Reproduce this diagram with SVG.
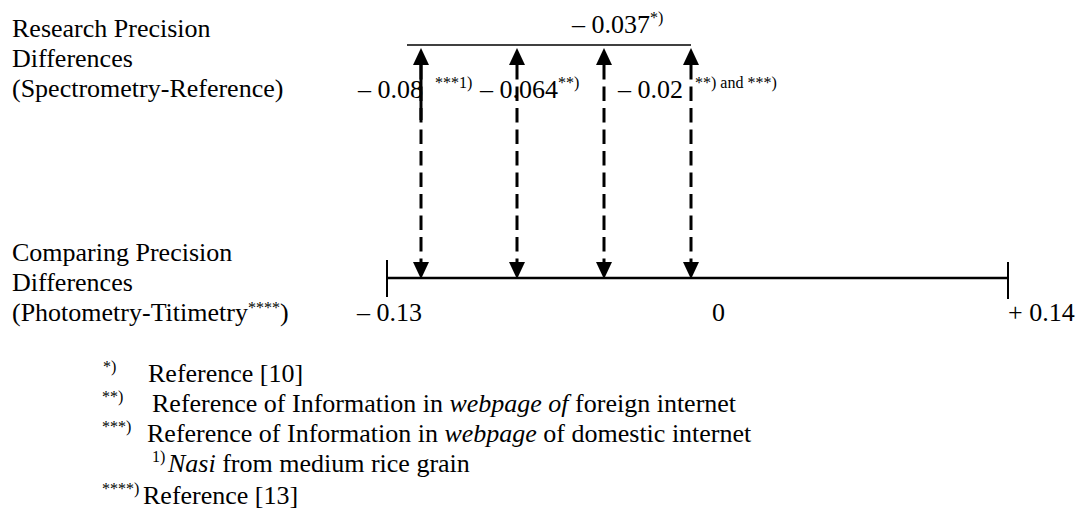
<svg xmlns="http://www.w3.org/2000/svg" width="1078" height="517" viewBox="0 0 1078 517">
  <style>
    text { font-family: "Liberation Serif", "Times New Roman", serif; fill: #000; }
    .t { font-size: 26px; }
    .sup { font-size: 16px; }
    .it { font-style: italic; }
    .bar { stroke: #000; stroke-width: 1.6; fill: none; }
    .axis { stroke: #000; stroke-width: 2.4; fill: none; }
    .tick { stroke: #000; stroke-width: 2; fill: none; }
    .link { stroke: #000; stroke-width: 3; fill: none; stroke-dasharray: 14.5 7; marker-start: url(#head); marker-end: url(#head); }
    .solid { stroke: #000; stroke-width: 3; fill: none; }
  </style>
  <defs>
    <marker id="head" viewBox="0 0 17 16" refX="0" refY="8" markerWidth="17" markerHeight="16" markerUnits="userSpaceOnUse" orient="auto-start-reverse">
      <path d="M0,0 L17,8 L0,16 Z" fill="#000"/>
    </marker>
  </defs>

  <rect width="1078" height="517" fill="#fff"/>

  <!-- row labels -->
  <g id="research-label">
    <text class="t" x="12" y="37">Research Precision</text>
    <text class="t" x="12" y="67">Differences</text>
    <text class="t" x="12" y="97">(Spectrometry-Reference)</text>
  </g>
  <g id="comparing-label">
    <text class="t" x="12" y="261">Comparing Precision</text>
    <text class="t" x="12" y="291">Differences</text>
    <text class="t" x="12" y="321">(Photometry-Titimetry<tspan class="sup" y="313">****</tspan><tspan y="321">)</tspan></text>
  </g>

  <!-- upper bar of research values -->
  <g id="research-bar">
    <line class="bar" x1="407" y1="45" x2="691" y2="45"/>
    <text class="t" x="572" y="33">– 0.037<tspan class="sup" y="23">*)</tspan></text>
  </g>

  <g id="value-008">
    <text class="t" x="358" y="98">– 0.08</text>
    <text class="sup" x="435" y="88">***1)</text>
  </g>
  <g id="value-0064">
    <text class="t" x="480" y="98">– 0.064<tspan class="sup" y="88">**)</tspan></text>
  </g>
  <g id="value-002">
    <text class="t" x="618" y="98">– 0.02</text>
    <text class="sup" x="695" y="88">**) and ***)</text>
  </g>

  <!-- comparing scale -->
  <g id="comparing-axis">
    <line class="axis" x1="387" y1="278" x2="1008" y2="278"/>
    <line class="tick" x1="387" y1="260" x2="387" y2="297"/>
    <line class="tick" x1="1008" y1="262" x2="1008" y2="299"/>
    <text class="t" x="357" y="321">– 0.13</text>
    <text class="t" x="712" y="321">0</text>
    <text class="t" x="1008" y="321">+ 0.14</text>
  </g>

  <!-- double-headed dashed connectors -->
  <g id="connectors">
    <line class="link" x1="421" y1="65" x2="421" y2="262"/>
    <line class="solid" x1="421" y1="65" x2="421" y2="120"/>
    <line class="link" x1="517" y1="65" x2="517" y2="262"/>
    <line class="link" x1="604" y1="65" x2="604" y2="262"/>
    <line class="link" x1="691" y1="65" x2="691" y2="262"/>
  </g>

  <!-- footnotes -->
  <g id="footnotes">
    <text class="sup" x="103" y="372">*)</text>
    <text class="t" x="148" y="382">Reference [10]</text>
    <text class="sup" x="102" y="402">**)</text>
    <text class="t" x="152" y="412">Reference of Information in <tspan class="it">webpage of</tspan> foreign internet</text>
    <text class="sup" x="102" y="432">***)</text>
    <text class="t" x="147" y="442">Reference of Information in <tspan class="it">webpage</tspan> of domestic internet</text>
    <text class="sup" x="152" y="462">1)</text>
    <text class="t" x="168" y="472"><tspan class="it">Nasi</tspan> from medium rice grain</text>
    <text class="sup" x="102" y="494">****)</text>
    <text class="t" x="143" y="504">Reference [13]</text>
  </g>
</svg>
